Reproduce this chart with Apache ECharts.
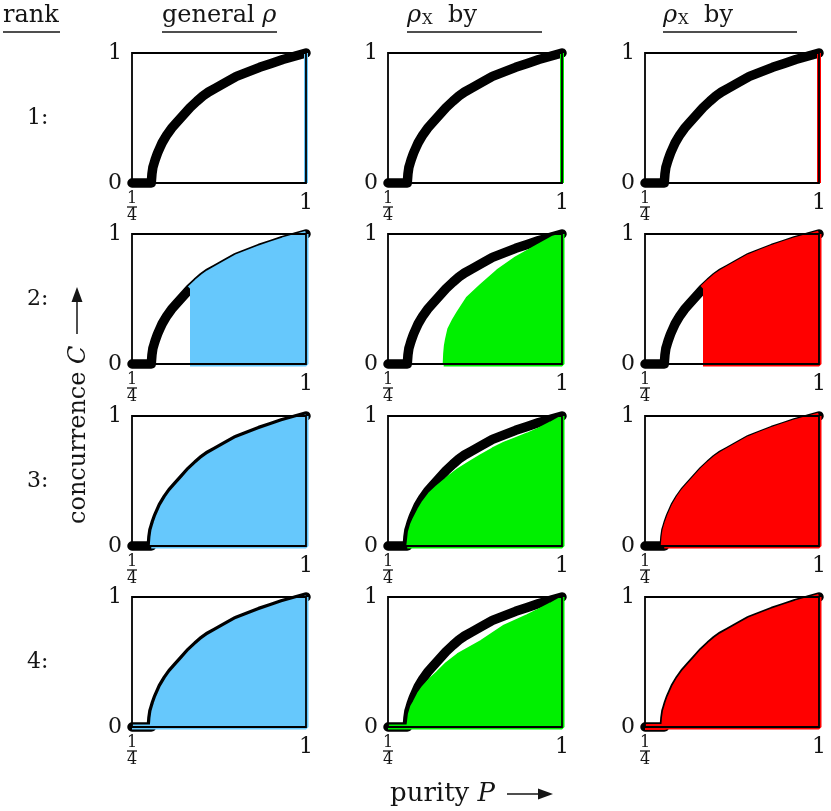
<!DOCTYPE html>
<html>
<head>
<meta charset="utf-8">
<title>concurrence vs purity</title>
<script src="https://cdn.jsdelivr.net/npm/echarts@6/dist/echarts.min.js"></script>
<style>
html, body { margin: 0; padding: 0; background: #fff; }
#main { width: 831px; height: 811px; }
</style>
</head>
<body>
<div id="main"></div>
<script>
// upper boundary (thick black curve)
var memsP = [0.25, 0.333, 0.336, 0.34, 0.345, 0.35, 0.36, 0.37, 0.38, 0.40, 0.42, 0.44, 0.47, 0.50, 0.53, 0.556, 0.58, 0.61, 0.65, 0.70, 0.75, 0.80, 0.85, 0.90, 0.95, 1.00];
var memsC = [0, 0, 0.07, 0.12, 0.15, 0.18, 0.23, 0.27, 0.31, 0.37, 0.42, 0.46, 0.52, 0.58, 0.63, 0.67, 0.70, 0.73, 0.77, 0.82, 0.855, 0.89, 0.92, 0.95, 0.975, 1.00];

// rank 2, general rho and rho_X (red): from P = 1/2 up to the boundary
var rank2P = memsP.slice(13);
var rank2C = memsC.slice(13);
// rank 2, rho_X (green)
var rank2XP = [0.49, 0.492, 0.495, 0.50, 0.51, 0.53, 0.55, 0.59, 0.65, 0.72, 0.80, 0.89, 0.96, 1.00];
var rank2XC = [0, 0.08, 0.14, 0.19, 0.27, 0.34, 0.40, 0.51, 0.61, 0.72, 0.82, 0.91, 0.98, 1.00];
// rank 3, general / red: from P = 1/3
var rank3P = memsP.slice(1);
var rank3C = memsC.slice(1);
// rank 3, green
var rank3XP = [0.333, 0.34, 0.35, 0.36, 0.38, 0.40, 0.43, 0.46, 0.50, 0.55, 0.60, 0.65, 0.70, 0.75, 0.80, 0.85, 0.90, 0.95, 1.00];
var rank3XC = [0, 0.11, 0.17, 0.21, 0.28, 0.34, 0.41, 0.46, 0.52, 0.59, 0.645, 0.70, 0.75, 0.795, 0.83, 0.865, 0.905, 0.95, 1.00];
// rank 4, general / red: whole range
var rank4P = memsP.slice(0);
var rank4C = memsC.slice(0);
// rank 4, green
var rank4XP = [0.25, 0.333, 0.34, 0.35, 0.36, 0.38, 0.40, 0.43, 0.46, 0.50, 0.55, 0.60, 0.65, 0.70, 0.75, 0.80, 0.85, 0.90, 0.95, 1.00];
var rank4XC = [0, 0, 0.10, 0.16, 0.19, 0.26, 0.31, 0.37, 0.42, 0.49, 0.56, 0.61, 0.66, 0.72, 0.78, 0.82, 0.86, 0.905, 0.95, 1.00];
// rank 1: only pure states, P = 1
var rank1P = [1, 1];
var rank1C = [0, 1];

var blue = '#66c8fc', green = '#00f000', red = '#ff0000';
var ink = '#151515';
var serif = 'DejaVu Serif';

// [row][col]: region data, colour, stroke width of the top edge
var panels = [
	[{p: rank1P, c: rank1C, col: blue, w: 4, line: true}, {p: rank1P, c: rank1C, col: green, w: 4, line: true}, {p: rank1P, c: rank1C, col: red, w: 4, line: true}],
	[{p: rank2P, c: rank2C, col: blue, w: 6}, {p: rank2XP, c: rank2XC, col: green, w: 2}, {p: rank2P, c: rank2C, col: red, w: 7}],
	[{p: rank3P, c: rank3C, col: blue, w: 3}, {p: rank3XP, c: rank3XC, col: green, w: 2}, {p: rank3P, c: rank3C, col: red, w: 7}],
	[{p: rank4P, c: rank4C, col: blue, w: 3}, {p: rank4XP, c: rank4XC, col: green, w: 2}, {p: rank4P, c: rank4C, col: red, w: 6}]
];

var colLeft = [132, 388, 645];
var rowTop = [53, 234, 416, 597];
var W = 174, H = 130;

function pairs(p, c) {
	var out = [];
	for (var i = 0; i < p.length; i++) out.push([p[i], c[i]]);
	return out;
}

var grids = [], xAxes = [], yAxes = [], series = [];
for (var r = 0; r < 4; r++) {
	for (var k = 0; k < 3; k++) {
		var idx = r * 3 + k;
		var pan = panels[r][k];
		grids.push({
			left: colLeft[k], top: rowTop[r], width: W, height: H,
			show: true, borderColor: '#000', borderWidth: 1.8,
			backgroundColor: 'transparent', z: 10
		});
		xAxes.push({
			gridIndex: idx, type: 'value', min: 0.25, max: 1, interval: 0.25,
			axisLine: {show: false}, axisTick: {show: false}, splitLine: {show: false},
			axisLabel: {
				margin: 9, color: ink, fontFamily: serif, fontSize: 22,
				showMinLabel: true, showMaxLabel: true,
				formatter: function (v) {
					if (Math.abs(v - 0.25) < 1e-6) return '{n|1}\n{b| }\n{d|4}';
					if (Math.abs(v - 1) < 1e-6) return '1';
					return '';
				},
				rich: {
					n: {fontFamily: serif, fontSize: 16, lineHeight: 13, color: ink},
					b: {width: 10, height: 1.3, lineHeight: 4, backgroundColor: ink},
					d: {fontFamily: serif, fontSize: 16, lineHeight: 14, color: ink}
				}
			}
		});
		yAxes.push({
			gridIndex: idx, type: 'value', min: 0, max: 1, interval: 1,
			axisLine: {show: false}, axisTick: {show: false}, splitLine: {show: false},
			axisLabel: {margin: 10, color: ink, fontFamily: serif, fontSize: 22}
		});
		// thick black boundary
		series.push({
			type: 'line', xAxisIndex: idx, yAxisIndex: idx,
			data: pairs(memsP, memsC), symbol: 'none', clip: false, z: 2,
			lineStyle: {color: '#000', width: 9.5, cap: 'round', join: 'round'}
		});
		if (pan.line) {
			series.push({
				type: 'line', xAxisIndex: idx, yAxisIndex: idx,
				data: pairs(pan.p, pan.c), symbol: 'none', clip: false, z: 3,
				lineStyle: {color: pan.col, width: pan.w}
			});
		} else {
			series.push({
				type: 'line', xAxisIndex: idx, yAxisIndex: idx,
				data: pairs(pan.p, pan.c), symbol: 'none', clip: false, z: 3,
				lineStyle: {color: pan.col, width: pan.w, join: 'round'},
				areaStyle: {color: pan.col, opacity: 1}
			});
			// coloured rim along bottom and right edge of the region
			series.push({
				type: 'line', xAxisIndex: idx, yAxisIndex: idx,
				data: [[pan.p[0], 0], [1, 0], [1, pan.c[pan.c.length - 1]]],
				symbol: 'none', clip: false, z: 3,
				lineStyle: {color: pan.col, width: 5}
			});
		}
	}
}

function label(x, y, text, extra) {
	var st = {text: text, fontFamily: serif, fontSize: 24, fill: ink, verticalAlign: 'middle'};
	for (var key in extra) st[key] = extra[key];
	return {type: 'text', x: x, y: y, style: st, z: 20};
}
function hline(x1, x2, y) {
	return {type: 'line', shape: {x1: x1, y1: y, x2: x2, y2: y}, style: {stroke: ink, lineWidth: 1.3}, z: 20};
}
var rich = {
	i: {fontFamily: serif, fontSize: 24, fontStyle: 'italic', fill: ink},
	s: {fontFamily: serif, fontSize: 15, fill: ink, verticalAlign: 'bottom', padding: [0, 0, 0, 1]},
	t: {fontFamily: serif, fontSize: 24, fill: ink}
};
var richBig = {
	i: {fontFamily: serif, fontSize: 26, fontStyle: 'italic', fill: ink},
	t: {fontFamily: serif, fontSize: 26, fill: ink}
};

var graphics = [
	label(3, 16, 'rank'),
	hline(3, 60, 32),
	label(162, 16, '{t|general }{i|ρ}', {rich: rich}),
	hline(162, 277, 32),
	label(407, 16, '{i|ρ}{s|X}{t|  by}', {rich: rich}),
	hline(407, 542, 32),
	label(663, 16, '{i|ρ}{s|X}{t|  by}', {rich: rich}),
	hline(663, 797, 32)
];
var rowNames = ['1:', '2:', '3:', '4:'];
for (var r2 = 0; r2 < 4; r2++) graphics.push(label(27, rowTop[r2] + H / 2, rowNames[r2], {fontSize: 22}));

// x title with arrow
graphics.push(label(390, 794, '{t|purity }{i|P}', {rich: richBig}));
graphics.push({type: 'line', shape: {x1: 507, y1: 794, x2: 541, y2: 794}, style: {stroke: ink, lineWidth: 1.5}, z: 20});
graphics.push({type: 'polygon', shape: {points: [[553, 794], [538, 788.5], [538, 799.5]]}, style: {fill: ink}, z: 20});
// y title with arrow
graphics.push({type: 'text', x: 79, y: 524, rotation: Math.PI / 2,
	style: {text: '{t|concurrence }{i|C}', rich: {
		i: {fontFamily: serif, fontSize: 24, fontStyle: 'italic', fill: ink},
		t: {fontFamily: serif, fontSize: 24, fill: ink}
	}, fontFamily: serif, fontSize: 24, fill: ink, align: 'left', verticalAlign: 'middle'}, z: 20});
graphics.push({type: 'line', shape: {x1: 77, y1: 334, x2: 77, y2: 298}, style: {stroke: ink, lineWidth: 1.5}, z: 20});
graphics.push({type: 'polygon', shape: {points: [[77, 287], [71.5, 302], [82.5, 302]]}, style: {fill: ink}, z: 20});

var chart = echarts.init(document.getElementById('main'));
chart.setOption({
	animation: false,
	backgroundColor: '#fff',
	grid: grids,
	xAxis: xAxes,
	yAxis: yAxes,
	series: series,
	graphic: graphics
});
</script>
</body>
</html>
